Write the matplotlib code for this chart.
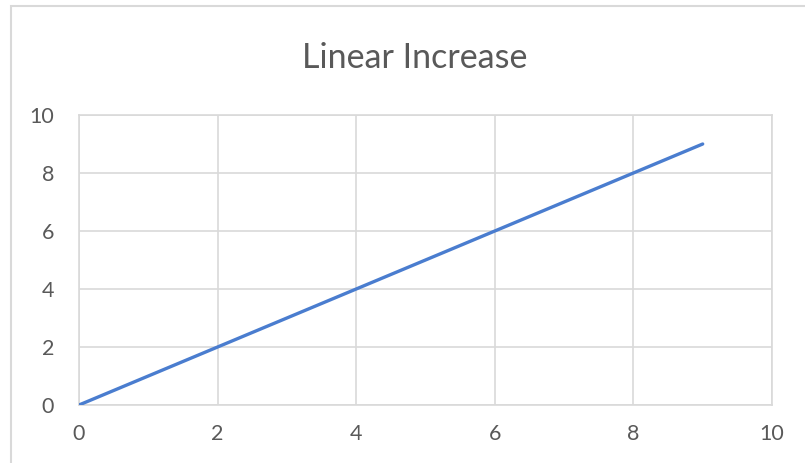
import matplotlib
matplotlib.use("Agg")
import matplotlib.pyplot as plt
from matplotlib.patches import Rectangle

x_vals = [0, 1, 2, 3, 4, 5, 6, 7, 8, 9]
y_vals = [0, 1, 2, 3, 4, 5, 6, 7, 8, 9]
x_ticks = [0, 2, 4, 6, 8, 10]
y_ticks = [0, 2, 4, 6, 8, 10]
title = "Linear Increase"

plt.rcParams['font.family'] = ['Lato', 'DejaVu Sans']

W, H = 805, 463
fig = plt.figure(figsize=(W / 100, H / 100), dpi=100)

# outer chart border (runs off the right and bottom edges)
fig.patches.append(Rectangle((11 / W, -0.05), 1.0, 1 - 6 / H + 0.05,
                             transform=fig.transFigure, fill=False,
                             edgecolor="#D9D9D9", lw=1.5))

ax = fig.add_axes([79 / W, (H - 405) / H, (772 - 79) / W, (405 - 115) / H])
ax.plot(x_vals, y_vals, color="#4A7DCF", lw=2.4, solid_capstyle="round", zorder=3)

ax.set_xlim(0, 10)
ax.set_ylim(0, 10)
ax.set_xticks(x_ticks)
ax.set_yticks(y_ticks)
ax.grid(True, color="#D9D9D9", lw=1.2)
for s in ax.spines.values():
    s.set_color("#D9D9D9")
    s.set_linewidth(1.2)
ax.tick_params(length=0, labelsize=15.5, colors="#595959")
ax.tick_params(axis="x", pad=14)
ax.tick_params(axis="y", pad=18)

fig.text(415 / W, 1 - 58 / H, title, ha="center", va="center",
         fontsize=24.5, color="#595959")

fig.savefig("out.png", dpi=100)
